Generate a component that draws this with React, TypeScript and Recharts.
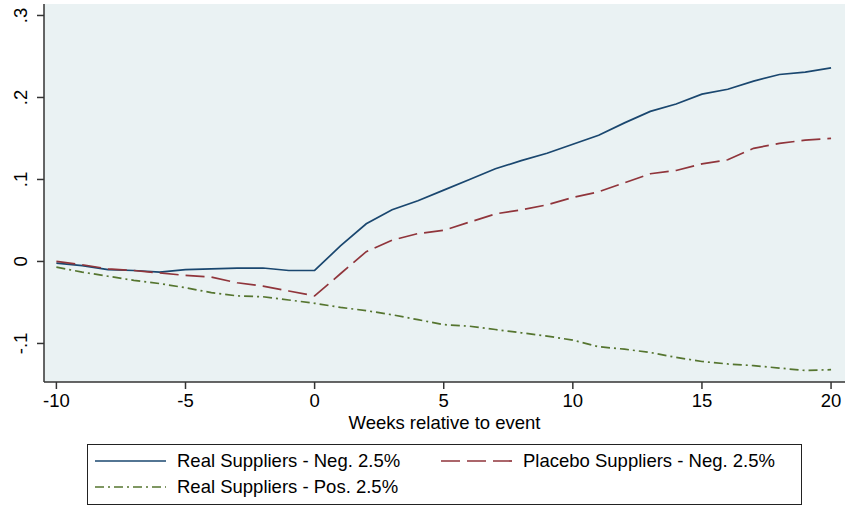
import { LineChart, Line, XAxis, YAxis, CartesianGrid, Label } from 'recharts';

// weeks relative to event
const weeks = [-10, -9, -8, -7, -6, -5, -4, -3, -2, -1, 0, 1, 2, 3, 4, 5, 6, 7, 8, 9, 10, 11, 12, 13, 14, 15, 16, 17, 18, 19, 20];

const realNeg = [
  -0.002, -0.005, -0.010, -0.011, -0.013, -0.010, -0.009, -0.008, -0.008, -0.011, -0.011,
  0.019, 0.046, 0.063, 0.074, 0.087, 0.100, 0.113, 0.123, 0.132, 0.143,
  0.154, 0.169, 0.183, 0.192, 0.204, 0.210, 0.220, 0.228, 0.231, 0.236,
];

const placeboNeg = [
  0.000, -0.004, -0.009, -0.011, -0.014, -0.017, -0.019, -0.026, -0.030, -0.036, -0.042,
  -0.015, 0.012, 0.026, 0.034, 0.038, 0.048, 0.058, 0.063, 0.069, 0.078,
  0.085, 0.096, 0.107, 0.111, 0.119, 0.124, 0.138, 0.144, 0.148, 0.150,
];

const realPos = [
  -0.007, -0.013, -0.018, -0.023, -0.027, -0.032, -0.038, -0.042, -0.043, -0.047, -0.051,
  -0.056, -0.060, -0.065, -0.071, -0.077, -0.079, -0.083, -0.087, -0.091, -0.096,
  -0.104, -0.107, -0.111, -0.117, -0.122, -0.125, -0.127, -0.130, -0.133, -0.132,
];

const xTicks = [-10, -5, 0, 5, 10, 15, 20];
const yTicks = [-0.1, 0, 0.1, 0.2, 0.3];

const series = [
  { key: 'realNeg', name: 'Real Suppliers - Neg. 2.5%', color: '#1a476f', dash: undefined },
  { key: 'placeboNeg', name: 'Placebo Suppliers - Neg. 2.5%', color: '#90353b', dash: '19 7' },
  { key: 'realPos', name: 'Real Suppliers - Pos. 2.5%', color: '#55752f', dash: '9 4 2 4' },
];

const data = weeks.map((w, i) => ({
  week: w,
  realNeg: realNeg[i],
  placeboNeg: placeboNeg[i],
  realPos: realPos[i],
}));

const FONT = '"Liberation Sans", Arial, sans-serif';

// stata style labels: .3, -.1, 0
const fmtY = (v: number) => (v === 0 ? '0' : v.toFixed(1).replace('0.', '.'));

function YTick(props: any) {
  const { x, y, payload } = props;
  return (
    <text x={x} y={y} transform={`rotate(-90 ${x} ${y})`} textAnchor="middle"
      fontSize={18.5} fontFamily={FONT} fill="#000">
      {fmtY(payload.value)}
    </text>
  );
}

function LegendRow({ s }: { s: typeof series[number] }) {
  return (
    <div style={{ display: 'flex', alignItems: 'center', height: 26 }}>
      <svg width={71} height={10} style={{ marginRight: 11 }}>
        <line x1={0} y1={5} x2={71} y2={5} stroke={s.color} strokeWidth={1.7} strokeDasharray={s.dash} />
      </svg>
      <span>{s.name}</span>
    </div>
  );
}

export default function App() {
  return (
    <div style={{ position: 'absolute', left: 0, top: 0, width: 846, height: 506, background: '#fff' }}>
      <LineChart width={846} height={506} data={data}
        margin={{ top: 4, right: 1, bottom: 74, left: 0 }}>
        <rect x={44} y={4} width={801} height={378} fill="#eaf2f3" />
        <CartesianGrid stroke="#ffffff" strokeWidth={1.5} fill="#eaf2f3"
          horizontalValues={yTicks} verticalValues={xTicks} />
        <XAxis dataKey="week" type="number" domain={[-10.48, 20.54]} ticks={xTicks}
          allowDataOverflow height={50} tickSize={7} tickMargin={5}
          stroke="#333" strokeWidth={1.5}
          tick={{ fontSize: 18.5, fontFamily: FONT, fill: '#000' }}>
          <Label value="Weeks relative to event" position="insideBottom" offset={3}
            style={{ fontSize: 18.5, fontFamily: FONT, fill: '#000' }} />
        </XAxis>
        <YAxis type="number" domain={[-0.147, 0.314]} ticks={yTicks} allowDataOverflow
          width={44} tickSize={7} tickMargin={10} stroke="#333" strokeWidth={1.5}
          tick={<YTick />} />
        {series.map((s) => (
          <Line key={s.key} type="linear" dataKey={s.key} name={s.name} stroke={s.color}
            strokeWidth={1.7} strokeDasharray={s.dash} dot={false} activeDot={false}
            isAnimationActive={false} />
        ))}
      </LineChart>
      <div style={{
        position: 'absolute', left: 87, top: 444, width: 713, height: 59,
        border: '1px solid #222', fontFamily: FONT, fontSize: 18.5, color: '#000',
        boxSizing: 'content-box',
      }}>
        <div style={{ position: 'absolute', left: 7, top: 3 }}><LegendRow s={series[0]} /></div>
        <div style={{ position: 'absolute', left: 353, top: 3 }}><LegendRow s={series[1]} /></div>
        <div style={{ position: 'absolute', left: 7, top: 29 }}><LegendRow s={series[2]} /></div>
      </div>
    </div>
  );
}
